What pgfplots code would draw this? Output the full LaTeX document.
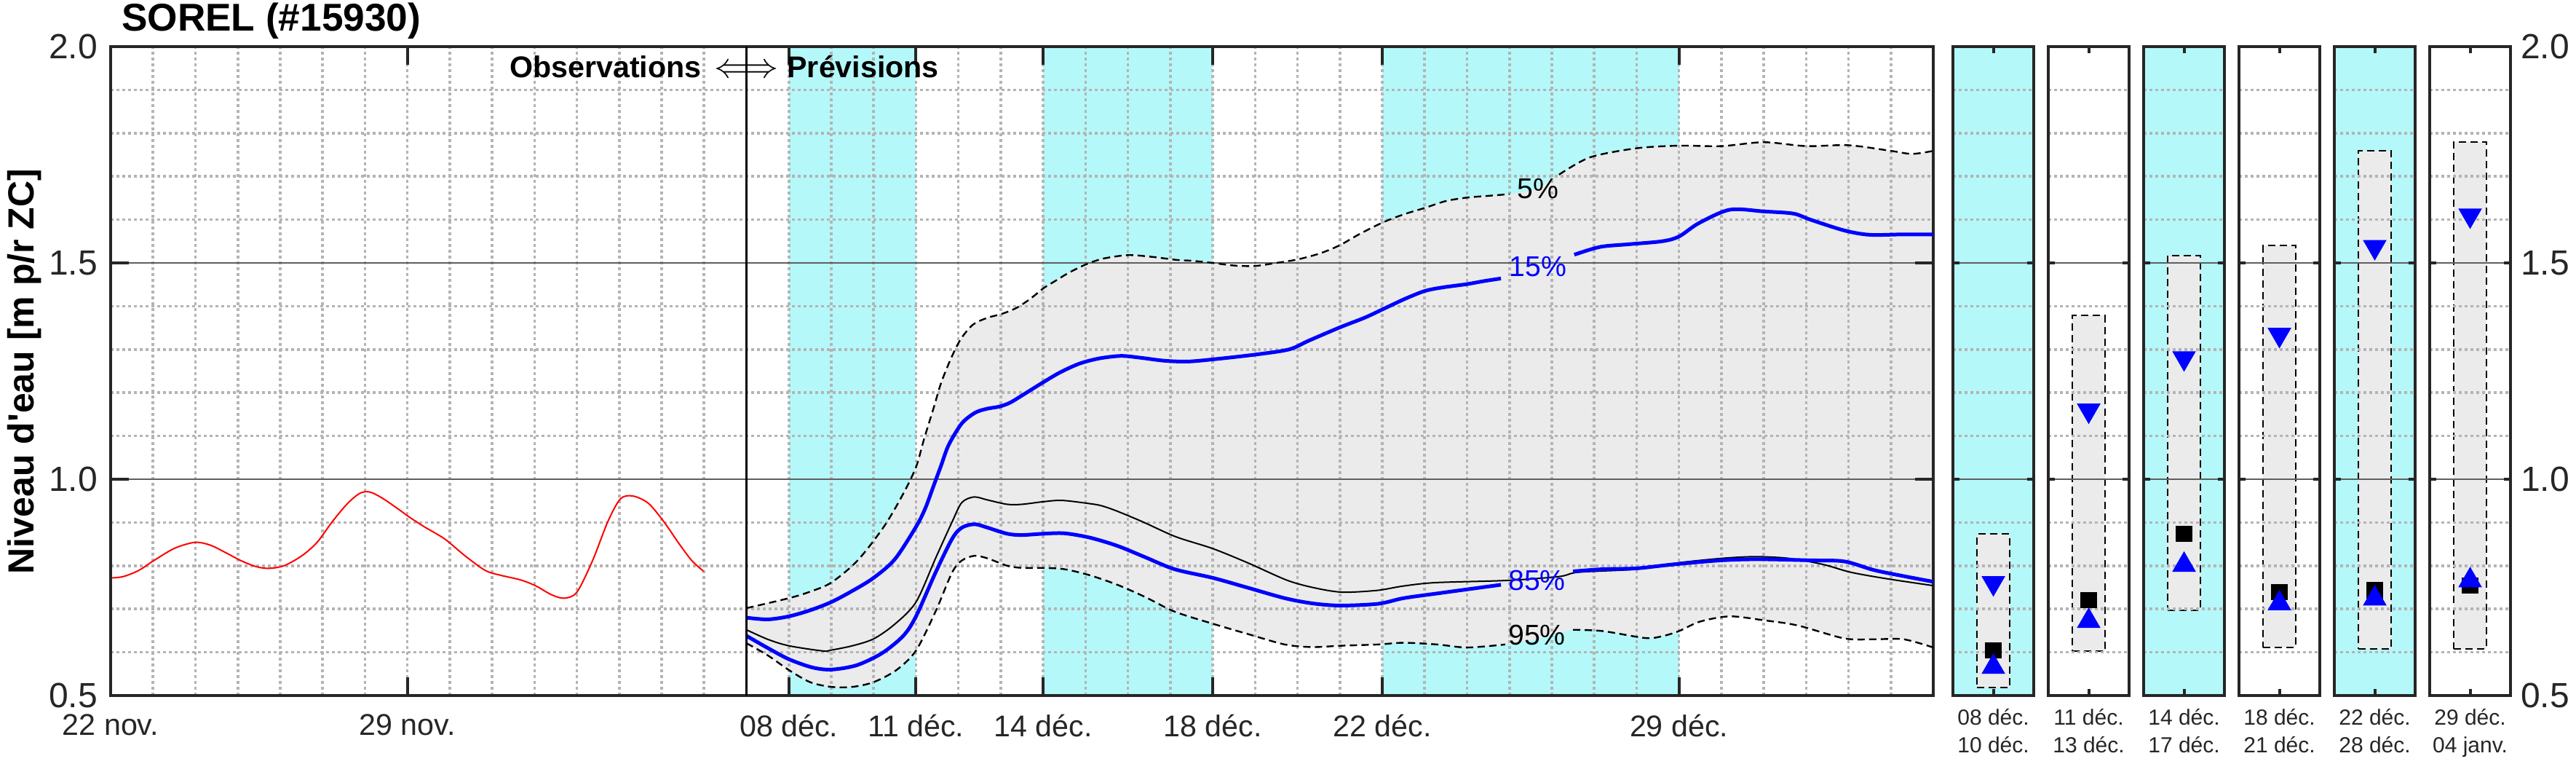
\documentclass[border=0pt]{standalone}
\usepackage{fontspec}
\setmainfont{Liberation Sans}
\newfontfamily\plainsans{Liberation Sans}
\usepackage{pgfplots}
\usepackage{pgfplotstable}
\pgfplotsset{compat=1.18}
\usepgfplotslibrary{fillbetween}

\definecolor{cyanband}{RGB}{180,248,250}
\definecolor{ensgrey}{RGB}{235,235,235}
\definecolor{axgrey}{RGB}{38,38,38}
\definecolor{gridgrey}{RGB}{180,180,180}
\definecolor{majgrid}{RGB}{95,95,95}

% 5% and 95% envelopes (days since 22 nov.)
\pgfplotstableread{
x y
15 0.702
16 0.725
16.5 0.740
17 0.761
17.62 0.812
18.24 0.890
18.68 0.963
19.0 1.028
19.19 1.093
19.42 1.166
19.59 1.222
19.82 1.278
20.05 1.323
20.34 1.357
20.68 1.373
21.02 1.382
21.37 1.396
21.71 1.418
22 1.441
22.28 1.458
22.62 1.478
23.02 1.497
23.42 1.510
24 1.518
24.57 1.514
25.14 1.507
25.5 1.505
26 1.500
26.5 1.494
27 1.493
27.5 1.500
28 1.508
28.53 1.522
29 1.541
29.45 1.566
30 1.593
30.5 1.612
31 1.627
31.5 1.643
32 1.651
32.5 1.655
33 1.659
33.6 1.670
34.17 1.704
34.9 1.744
36 1.765
37 1.771
38 1.770
39 1.779
40 1.770
41 1.772
42 1.759
42.5 1.752
43 1.759
}\pfive

\pgfplotstableread{
x y
15 0.621
15.5 0.593
16 0.559
16.5 0.531
17 0.520
17.5 0.520
18 0.531
18.54 0.559
19 0.604
19.46 0.694
19.85 0.784
20.08 0.812
20.38 0.823
20.69 0.817
21.15 0.800
21.5 0.795
22 0.795
22.5 0.792
23.1 0.778
23.75 0.756
24.4 0.728
25.1 0.694
26 0.666
26.8 0.643
27.7 0.618
28.35 0.612
29 0.615
29.9 0.618
30.5 0.622
31.3 0.618
32 0.611
32.9 0.618
33.7 0.632
34.5 0.652
35.2 0.649
36.2 0.633
36.6 0.637
37 0.649
37.5 0.671
38.2 0.683
39.0 0.674
39.8 0.662
40.9 0.632
41.6 0.630
42.3 0.630
43 0.611
}\pninetyfive

\pgfplotsset{
  matlab/.style={
    set layers, scale only axis, anchor=south west,
    ymin=0.5, ymax=2,
    ytick={0.5,1,1.5,2},
    minor ytick={0.6,0.7,0.8,0.9,1.1,1.2,1.3,1.4,1.6,1.7,1.8,1.9},
    ymajorgrids, yminorgrids,
    major y grid style={majgrid, line width=0.6pt},
    minor y grid style={gridgrey, line width=0.9pt, dash pattern=on 1pt off 1pt},
    minor x grid style={gridgrey, line width=0.9pt, dash pattern=on 1pt off 1pt},
    axis line style={axgrey, line width=1pt},
    every tick/.append style={axgrey, line width=1pt},
    minor tick length=0pt,
    tick align=inside,
    tick label style={text=axgrey},
  },
  panel/.style={matlab, width=27.75pt, height=222.75pt,
    xmin=0, xmax=1, xtick={0.5}, yticklabels={},
    major tick length=2.3pt,
    xticklabel style={font=\fontsize{7.5}{9.5}\selectfont, align=center, yshift=-1pt}},
  pbar/.style={fill=ensgrey, draw=black, line width=0.5pt,
    dash pattern=on 2.5pt off 1.5pt, on layer=axis background},
  psq/.style={only marks, mark=square*, mark size=2.6pt, black},
  pup/.style={only marks, mark=triangle*, mark size=4.3pt, blue},
  pdn/.style={only marks, mark=triangle*, mark size=4.3pt, blue, mark options={rotate=180}},
}

\begin{document}
\begin{tikzpicture}

\node[anchor=base west, font=\bfseries\fontsize{13.3}{15}\selectfont] at (38.25pt,254pt) {SOREL (\#15930)};
\node[anchor=base, rotate=90, font=\plainsans\bfseries\fontsize{12.5}{15}\selectfont] at (11.75pt,137.25pt) {Niveau d'eau [m p/r ZC]};

% main panel: observations + forecast
\begin{axis}[matlab, at={(38pt,26pt)}, width=626pt, height=222.75pt,
  xmin=0, xmax=43,
  xtick={0,7,16,19,22,26,30,37},
  xticklabels={22 nov.,29 nov.,08 déc.,11 déc.,14 déc.,18 déc.,22 déc.,29 déc.},
  minor xtick={1,2,...,42},
  xminorgrids,
  major tick length=6.25pt,
  yticklabels={0.5,1.0,1.5,2.0},
  xticklabel style={font=\fontsize{10.3}{12}\selectfont, yshift=-3pt},
  yticklabel style={font=\fontsize{12}{14}\selectfont, xshift=-1pt},
]
  % cyan periods
  \addplot[fill=cyanband, draw=none, on layer=axis background] coordinates {(16,0.5)(19,0.5)(19,2)(16,2)} --cycle;
  \addplot[fill=cyanband, draw=none, on layer=axis background] coordinates {(22,0.5)(26,0.5)(26,2)(22,2)} --cycle;
  \addplot[fill=cyanband, draw=none, on layer=axis background] coordinates {(30,0.5)(37,0.5)(37,2)(30,2)} --cycle;

  \addplot[draw=none, smooth, name path=envup] table {\pfive};
  \addplot[draw=none, smooth, name path=envlo] table {\pninetyfive};
  \addplot[fill=ensgrey, draw=none] fill between[of=envup and envlo, on layer=axis background];

  % envelopes
  \addplot[black, line width=0.6pt, dash pattern=on 2.5pt off 1.5pt, smooth,
    unbounded coords=jump, x filter/.expression={((x>33.2)&&(x<34.0)) ? nan : x}] table {\pfive};
  \addplot[black, line width=0.6pt, dash pattern=on 2.5pt off 1.5pt, smooth,
    unbounded coords=jump, x filter/.expression={((x>33.2)&&(x<34.0)) ? nan : x}] table {\pninetyfive};

  % median
  \addplot[black, line width=0.5pt, smooth] coordinates {
    (15,0.652)(15.5,0.630)(16,0.615)(16.8,0.603)(17,0.605)(17.5,0.615)(18,0.631)(18.5,0.665)
    (19,0.716)(19.46,0.817)(19.85,0.901)(20.08,0.946)(20.37,0.959)(20.69,0.952)(21.15,0.942)
    (21.5,0.942)(22,0.948)(22.45,0.951)(23.14,0.943)(23.4,0.938)(23.75,0.926)(24.36,0.901)
    (25.13,0.867)(25.99,0.840)(26.82,0.807)(27.74,0.767)(28.35,0.750)(29.04,0.739)(29.88,0.743)
    (30.49,0.753)(31.26,0.761)(32.94,0.766)(34.17,0.775)(34.63,0.785)(36,0.792)(37,0.807)
    (38,0.817)(38.8,0.821)(39.6,0.817)(40.4,0.803)(41.05,0.785)(41.9,0.770)(43,0.754)};

  % 15% and 85%
  \addplot[blue, line width=1.25pt, smooth, unbounded coords=jump] coordinates {
    (15,0.680)(15.5,0.676)(16,0.683)(16.5,0.697)(17,0.716)(17.5,0.742)(18,0.772)(18.5,0.815)
    (19,0.890)(19.22,0.933)(19.42,0.986)(19.59,1.031)(19.77,1.079)(20.08,1.129)(20.4,1.154)
    (20.68,1.163)(20.97,1.168)(21.22,1.177)(21.54,1.196)(22,1.224)(22.4,1.247)(22.85,1.267)
    (23.31,1.279)(23.83,1.285)(24.28,1.281)(24.85,1.274)(25.4,1.272)(26,1.277)(27,1.288)
    (27.8,1.300)(28.26,1.320)(29,1.351)(29.6,1.374)(30.1,1.397)(30.56,1.418)(31,1.435)
    (31.4,1.443)(32,1.451)(32.4,1.458)(32.8,1.464)(33.7,nan)(34.53,1.519)(35.14,1.537)
    (35.8,1.543)(36.6,1.550)(37.0,1.561)(37.47,1.592)(38.2,1.623)(39,1.619)(39.7,1.614)
    (40.1,1.600)(40.9,1.575)(41.5,1.565)(42.3,1.566)(43,1.566)};
  \addplot[blue, line width=1.25pt, smooth, unbounded coords=jump] coordinates {
    (15,0.638)(15.5,0.610)(16,0.584)(16.55,0.565)(17,0.560)(17.6,0.570)(18.2,0.598)(18.7,0.638)
    (19,0.683)(19.46,0.784)(19.85,0.862)(20.08,0.888)(20.38,0.896)(20.69,0.888)(21.15,0.874)
    (21.5,0.871)(22,0.874)(22.5,0.875)(23.1,0.865)(23.75,0.846)(24.4,0.820)(25.1,0.792)
    (26,0.772)(26.8,0.750)(27.7,0.725)(28.35,0.713)(29,0.708)(29.9,0.712)(30.5,0.725)
    (31.3,0.736)(32.8,0.756)(33.65,nan)(34.5,0.787)(35.2,0.792)(36,0.794)(36.86,0.803)
    (38,0.8125)(38.9,0.815)(40.1,0.8125)(40.9,0.810)(41.6,0.790)(42.3,0.776)(43,0.763)};

  % observations
  \addplot[red, line width=0.5pt, smooth] coordinates {
    (0.03,0.772)(0.3,0.775)(0.66,0.789)(1.02,0.812)(1.5,0.840)(1.98,0.854)(2.34,0.848)
    (2.7,0.831)(3.07,0.812)(3.43,0.798)(3.73,0.794)(4.09,0.800)(4.51,0.823)(4.87,0.854)
    (5.23,0.902)(5.59,0.944)(5.89,0.968)(6.13,0.970)(6.43,0.955)(6.8,0.930)(7.04,0.913)
    (7.4,0.890)(7.88,0.862)(8.36,0.823)(8.84,0.789)(9.2,0.778)(9.68,0.767)(10.04,0.753)
    (10.4,0.733)(10.7,0.725)(11.0,0.739)(11.37,0.812)(11.73,0.902)(12.03,0.955)(12.33,0.961)
    (12.69,0.944)(13.05,0.902)(13.41,0.851)(13.71,0.812)(13.99,0.787)};

  % start of forecast
  \addplot[black, line width=0.7pt] coordinates {(15,0.5)(15,2)};

  \node[anchor=base, inner sep=0pt] at (axis cs:15,1.929)
    {\makebox[0pt][r]{\bfseries\fontsize{10.3}{12}\selectfont Observations\hspace{4.5pt}}\fontsize{12}{14}\selectfont$\Longleftrightarrow$\makebox[0pt][l]{\bfseries\fontsize{10.3}{12}\selectfont\hspace{3pt}Prévisions}};

  \node[black, font=\fontsize{9.8}{11}\selectfont] at (axis cs:33.67,1.671) {5\%};
  \node[blue, font=\fontsize{9.8}{11}\selectfont] at (axis cs:33.67,1.491) {15\%};
  \node[blue, font=\fontsize{9.8}{11}\selectfont] at (axis cs:33.65,0.766) {85\%};
  \node[black, font=\fontsize{9.8}{11}\selectfont] at (axis cs:33.65,0.640) {95\%};
\end{axis}

% period summaries
\begin{axis}[panel, at={(670.75pt,26pt)}, axis background/.style={fill=cyanband},
  xticklabels={{08 déc.\\10 déc.}}]
  \addplot[pbar] coordinates {(0.3,0.518)(0.7,0.518)(0.7,0.873)(0.3,0.873)} --cycle;
  \addplot[psq] coordinates {(0.5,0.604)};
  \addplot[pup] coordinates {(0.5,0.566)};
  \addplot[pdn] coordinates {(0.5,0.760)};
\end{axis}

\begin{axis}[panel, at={(703.5pt,26pt)},
  xticklabels={{11 déc.\\13 déc.}}]
  \addplot[pbar] coordinates {(0.3,0.602)(0.7,0.602)(0.7,1.378)(0.3,1.378)} --cycle;
  \addplot[psq] coordinates {(0.5,0.721)};
  \addplot[pup] coordinates {(0.5,0.672)};
  \addplot[pdn] coordinates {(0.5,1.159)};
\end{axis}

\begin{axis}[panel, at={(736.25pt,26pt)}, axis background/.style={fill=cyanband},
  xticklabels={{14 déc.\\17 déc.}}]
  \addplot[pbar] coordinates {(0.3,0.697)(0.7,0.697)(0.7,1.517)(0.3,1.517)} --cycle;
  \addplot[psq] coordinates {(0.5,0.874)};
  \addplot[pup] coordinates {(0.5,0.802)};
  \addplot[pdn] coordinates {(0.5,1.280)};
\end{axis}

\begin{axis}[panel, at={(769pt,26pt)},
  xticklabels={{18 déc.\\21 déc.}}]
  \addplot[pbar] coordinates {(0.3,0.611)(0.7,0.611)(0.7,1.540)(0.3,1.540)} --cycle;
  \addplot[psq] coordinates {(0.5,0.739)};
  \addplot[pup] coordinates {(0.5,0.713)};
  \addplot[pdn] coordinates {(0.5,1.334)};
\end{axis}

\begin{axis}[panel, at={(801.75pt,26pt)}, axis background/.style={fill=cyanband},
  xticklabels={{22 déc.\\28 déc.}}]
  \addplot[pbar] coordinates {(0.3,0.607)(0.7,0.607)(0.7,1.760)(0.3,1.760)} --cycle;
  \addplot[psq] coordinates {(0.5,0.743)};
  \addplot[pup] coordinates {(0.5,0.724)};
  \addplot[pdn] coordinates {(0.5,1.537)};
\end{axis}

\begin{axis}[panel, at={(834.5pt,26pt)},
  xticklabels={{29 déc.\\04 janv.}},
  yticklabels={0.5,1.0,1.5,2.0}, ytick pos=both, yticklabel pos=right,
  yticklabel style={font=\fontsize{12}{14}\selectfont, xshift=0pt}]
  \addplot[pbar] coordinates {(0.3,0.608)(0.7,0.608)(0.7,1.780)(0.3,1.780)} --cycle;
  \addplot[psq] coordinates {(0.5,0.754)};
  \addplot[pup] coordinates {(0.5,0.766)};
  \addplot[pdn] coordinates {(0.5,1.610)};
\end{axis}

\pgfresetboundingbox
\path (0,0) rectangle (884.75pt,264.75pt);
\end{tikzpicture}
\end{document}
